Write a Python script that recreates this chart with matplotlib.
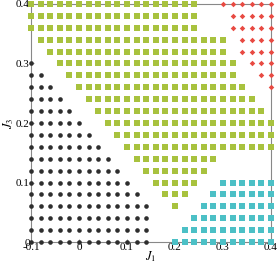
import numpy as np
import matplotlib
matplotlib.use("Agg")
import matplotlib.pyplot as plt

# ---- DATA (grid indices) ----
# J1 grid: -0.1 .. 0.4 step 0.02 (26 columns), J3 grid: 0 .. 0.4 step 0.02 (21 rows)
j1_grid = np.round(np.arange(-0.1, 0.4001, 0.02), 3)
j3_grid = np.round(np.arange(0.0, 0.4001, 0.02), 3)

# per row (J3 = 0, 0.02, ... 0.4): column ranges [start, end] inclusive, None = empty
black_range = [(0, 12), (0, 12), (0, 12), (0, 12), (0, 11), (0, 10), (0, 9), (0, 8),
               (0, 7), (0, 6), (0, 5), (0, 4), (0, 3), (0, 2), (0, 1), (0, 0),
               None, None, None, None, None]
green_range = [None, None, None, (15, 15), (14, 16), (13, 17), (12, 18), (11, 19),
               (10, 25), (9, 25), (8, 25), (7, 24), (6, 23), (5, 22), (4, 21), (3, 21),
               (2, 20), (1, 20), (0, 17), (0, 17), (0, 17)]
cyan_range = [(15, 25), (16, 25), (17, 25), (18, 25), (19, 25), (20, 25), None, None,
              None, None, None, None, None, None, None, None,
              None, None, None, None, None]
red_range = [None, None, None, None, None, None, None, None,
             None, None, None, None, None, (25, 25), (24, 25), (23, 25),
             (22, 25), (22, 25), (21, 25), (21, 25), (20, 25)]

x_ticks = [-0.1, 0, 0.1, 0.2, 0.3, 0.4]
x_ticklabels = ["-0.1", "0", "0.1", "0.2", "0.3", "0.4"]
y_ticks = [0, 0.1, 0.2, 0.3, 0.4]
y_ticklabels = ["0", "0.1", "0.2", "0.3", "0.4"]


def points(ranges):
    xs, ys = [], []
    for row, r in enumerate(ranges):
        if r is None:
            continue
        for col in range(r[0], r[1] + 1):
            xs.append(j1_grid[col])
            ys.append(j3_grid[row])
    return xs, ys


plt.rcParams["font.family"] = ["Liberation Serif", "DejaVu Serif"]
plt.rcParams["mathtext.fontset"] = "stix"

fig = plt.figure(figsize=(2.77, 2.64), dpi=100)
ax = fig.add_axes([0.112, 0.083, 0.866, 0.902])

bx, by = points(black_range)
gx, gy = points(green_range)
cx, cy = points(cyan_range)
rx, ry = points(red_range)

ax.scatter(bx, by, s=11, marker="o", color="#2e2e2e", linewidths=0, clip_on=False, zorder=3)
ax.scatter(gx, gy, s=15, marker="s", color="#a8c23e", linewidths=0, clip_on=False, zorder=3)
ax.scatter(cx, cy, s=18, marker="s", color="#4cc0c6", linewidths=0, clip_on=False, zorder=3)
ax.scatter(rx, ry, s=8, marker="D", color="#e84a42", linewidths=0, clip_on=False, zorder=3)

ax.set_xlim(-0.1, 0.4)
ax.set_ylim(0, 0.4)
ax.set_xticks(x_ticks)
ax.set_xticklabels(x_ticklabels)
ax.set_yticks(y_ticks)
ax.set_yticklabels(y_ticklabels)
ax.tick_params(direction="in", length=2, width=0.6, color="#888888", labelsize=8, pad=1)
for sp in ax.spines.values():
    sp.set_color("#888888")
    sp.set_linewidth(0.8)

ax.set_xlabel("$J_1$", fontsize=9, labelpad=-2)
ax.set_ylabel("$J_3$", fontsize=9, labelpad=0)

fig.savefig("out.png", dpi=100)
